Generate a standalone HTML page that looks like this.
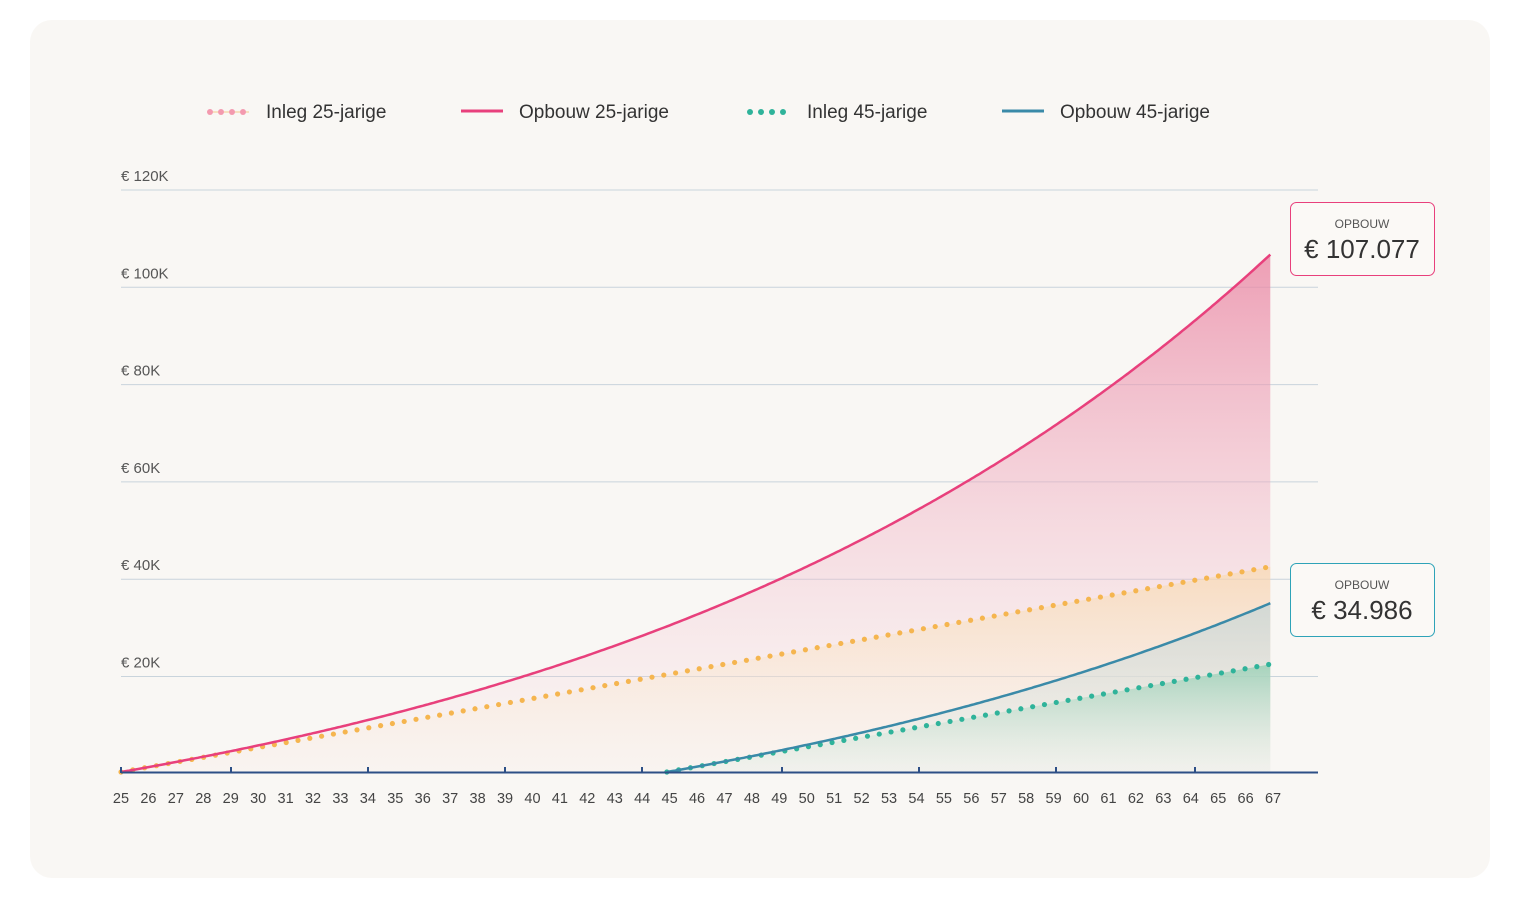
<!DOCTYPE html>
<html><head><meta charset="utf-8"><style>
body{margin:0;background:#fff;width:1521px;height:915px;overflow:hidden;font-family:"Liberation Sans",sans-serif}
.card{position:absolute;left:30px;top:20px;width:1460px;height:858px;background:#f9f7f4;border-radius:22px}
</style></head><body>
<div class="card"></div>
<svg id="s" width="1521" height="915" style="position:absolute;left:0;top:0" font-family="Liberation Sans, sans-serif">
<defs>
<linearGradient id="gp" x1="0" y1="253" x2="0" y2="772" gradientUnits="userSpaceOnUse"><stop offset="0" stop-color="#e9809f" stop-opacity=".75"/><stop offset="1" stop-color="#f7dde4" stop-opacity=".1"/></linearGradient>
<linearGradient id="go" x1="0" y1="568" x2="0" y2="772" gradientUnits="userSpaceOnUse"><stop offset="0" stop-color="#f9d9a8" stop-opacity=".6"/><stop offset="1" stop-color="#fbeedd" stop-opacity=".1"/></linearGradient>
<linearGradient id="gt" x1="0" y1="603" x2="0" y2="772" gradientUnits="userSpaceOnUse"><stop offset="0" stop-color="#c9d6d6" stop-opacity=".8"/><stop offset="1" stop-color="#e3ebe6" stop-opacity=".2"/></linearGradient>
<linearGradient id="gg" x1="0" y1="665" x2="0" y2="772" gradientUnits="userSpaceOnUse"><stop offset="0" stop-color="#7fc9a8" stop-opacity=".6"/><stop offset="1" stop-color="#d6ece0" stop-opacity=".1"/></linearGradient>
</defs>
<g fill="#333" font-size="16">
<line x1="207" y1="112" x2="249" y2="112" stroke="#f5c88a" stroke-width="1"/>
<circle cx="210" cy="112" r="3" fill="#f39aaf"/><circle cx="221" cy="112" r="3" fill="#f39aaf"/><circle cx="232" cy="112" r="3" fill="#f39aaf"/><circle cx="243" cy="112" r="3" fill="#f39aaf"/>
<text x="266" y="118" font-size="19">Inleg 25-jarige</text>
<line x1="461" y1="111" x2="503" y2="111" stroke="#e8407c" stroke-width="3"/>
<text x="519" y="118" font-size="19">Opbouw 25-jarige</text>
<circle cx="750" cy="112" r="3" fill="#2fb39a"/><circle cx="761" cy="112" r="3" fill="#2fb39a"/><circle cx="772" cy="112" r="3" fill="#2fb39a"/><circle cx="783" cy="112" r="3" fill="#2fb39a"/>
<text x="807" y="118" font-size="19">Inleg 45-jarige</text>
<line x1="1002" y1="111" x2="1044" y2="111" stroke="#3a8aa8" stroke-width="3"/>
<text x="1060" y="118" font-size="19">Opbouw 45-jarige</text>
</g>
<g id="grid" stroke="#c9d4dc" stroke-width="1"></g>
<g id="series"></g>
<g id="ax"></g>
<rect x="1290.5" y="202.5" width="144" height="73" rx="6" fill="#fbf9f6" stroke="#e8407c"/>
<text x="1362" y="228" text-anchor="middle" font-size="12" fill="#555">OPBOUW</text>
<text x="1362" y="258" text-anchor="middle" font-size="26" fill="#333">€ 107.077</text>
<rect x="1290.5" y="563.5" width="144" height="73" rx="6" fill="#fbf9f6" stroke="#2ea3b8"/>
<text x="1362" y="589" text-anchor="middle" font-size="12" fill="#555">OPBOUW</text>
<text x="1362" y="619" text-anchor="middle" font-size="26" fill="#333">€ 34.986</text>
</svg>
<script>
var NS="http://www.w3.org/2000/svg";
function el(p,t,a,txt){var e=document.createElementNS(NS,t);for(var k in a)e.setAttribute(k,a[k]);if(txt!=null)e.textContent=txt;document.getElementById(p).appendChild(e);return e;}
var Y0=772,PY=97.2/20000;
function X(a){return 121+(a-25)*27.43;}
function Yv(v){return Y0-v*PY;}
var labs=["€ 120K","€ 100K","€ 80K","€ 60K","€ 40K","€ 20K"];
for(var i=0;i<6;i++){var y=190+i*97.3;el("grid","line",{x1:121,y1:y,x2:1318,y2:y});el("ax","text",{x:121,y:y-9,"font-size":15,fill:"#555"},labs[i]);}
el("ax","line",{x1:121,y1:772.5,x2:1318,y2:772.5,stroke:"#2d4f86","stroke-width":2});
[121,231,368,505,642,782,919,1056,1195].forEach(function(x){el("ax","line",{x1:x,y1:767,x2:x,y2:773,stroke:"#2d4f86","stroke-width":2});});
for(var a=25;a<=67;a++)el("ax","text",{x:X(a),y:803,"font-size":14.5,fill:"#444","text-anchor":"middle"},a);
var END=66.9,c=1008,r=0.0405;
function fv(t){return c*(Math.pow(1+r,t)-1)/r;}
function pts(a0,f){var p=[];for(var a=a0;a<=END+1e-6;a+=0.1)p.push([X(a),Yv(f(a-a0))]);return p;}
function area(p,fill){var d="M"+p[0][0]+","+Y0;p.forEach(function(q){d+="L"+q[0].toFixed(1)+","+q[1].toFixed(1)});d+="L"+p[p.length-1][0]+","+Y0+"Z";el("series","path",{d:d,fill:fill});}
function line(p,col){var d="";p.forEach(function(q,i){d+=(i?"L":"M")+q[0].toFixed(1)+","+q[1].toFixed(1)});el("series","path",{d:d,fill:"none",stroke:col,"stroke-width":2.5});}
function dots(a0,col,sc){var x0=X(a0),x1=X(END);for(var x=x0;x<=x1+0.5;x+=11.8){var t=(x-x0)/27.43;el("series","circle",{cx:x,cy:Yv(t*sc),r:2.6,fill:col});}}
var pP=pts(25,fv),pO=pts(25,function(t){return t*c;}),pT=pts(44.9,fv),pG=pts(44.9,function(t){return t*c;});
area(pP,"url(#gp)");area(pO,"url(#go)");area(pT,"url(#gt)");area(pG,"url(#gg)");
dots(25,"#f5b54f",c);line(pP,"#e8407c");
dots(44.9,"#2fb39a",c);line(pT,"#3a8aa8");
</script>
</body></html>
